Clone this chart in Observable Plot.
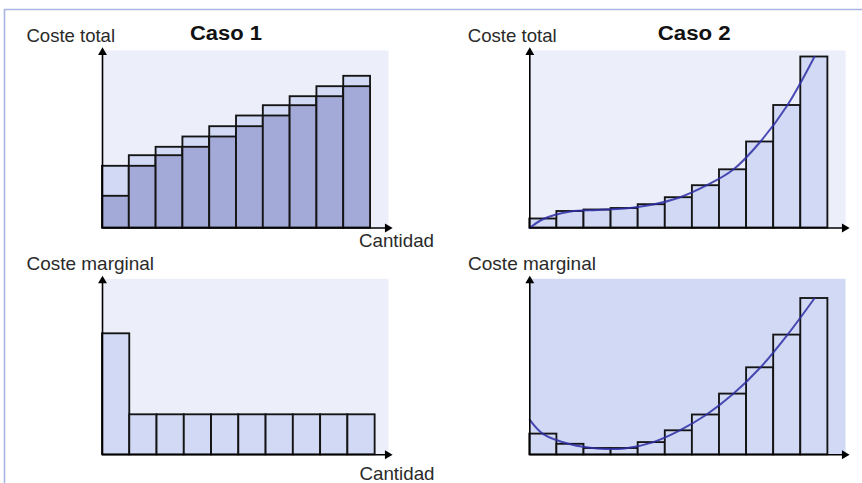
<!DOCTYPE html>
<html>
<head>
<meta charset="utf-8">
<script src="https://cdn.jsdelivr.net/npm/d3@7"></script>
<script src="https://cdn.jsdelivr.net/npm/@observablehq/plot@0.6"></script>
<style>
  html, body { margin: 0; padding: 0; background: #fff; }
  #root { position: relative; width: 862px; height: 483px; overflow: hidden; background: #fff;
          font-family: "Liberation Sans", Arial, Helvetica, sans-serif; }
  .panel { position: absolute; }
  #overlay { position: absolute; left: 0; top: 0; pointer-events: none; }
</style>
</head>
<body>
<div id="root"></div>
<script>
// ---------- DATA ----------
// Caso 1: 10 units of quantity
const quantities1 = [1, 2, 3, 4, 5, 6, 7, 8, 9, 10];
const costBefore1 = [3.17, 6.17, 7.23, 8.07, 9.1, 10.13, 11.2, 12.23, 13.13, 14.13];
const costAfter1  = [6.17, 7.23, 8.07, 9.1, 10.13, 11.2, 12.23, 13.13, 14.13, 15.17];
const marginal1   = [12.1, 4.0, 4.0, 4.0, 4.0, 4.0, 4.0, 4.0, 4.0, 4.0];

// Caso 2: 11 units of quantity
const quantities2 = [1, 2, 3, 4, 5, 6, 7, 8, 9, 10, 11];
const totalCost2  = [0.9, 1.65, 1.8, 1.95, 2.33, 3.03, 4.23, 5.82, 8.6, 12.25, 17.1];
const marginal2   = [2.07, 1.05, 0.63, 0.63, 1.22, 2.4, 3.98, 6.07, 8.7, 11.97, 15.63];

// Smooth curves of Caso 2
const curveQ          = [0, 0.5, 1.5, 2.5, 3.5, 4.5, 5.5, 6.5, 7.5, 8.5, 9.5, 10.5];
const totalCurve2     = [0, 0.9, 1.65, 1.8, 1.95, 2.33, 3.03, 4.23, 5.82, 8.6, 12.25, 17.1];
const marginalCurve2  = [3.5, 2.07, 1.05, 0.63, 0.63, 1.22, 2.4, 3.98, 6.07, 8.7, 11.97, 15.63];

// Texts
const caseTitles   = ["Caso 1", "Caso 2"];
const yLabels      = ["Coste total", "Coste marginal"];
const xLabel       = "Cantidad";

// ---------- STYLE ----------
const C = {
  bg: "#eceefa",
  light: "#d2d9f4",
  dark: "#a4aad8",
  stroke: "#141414",
  curve: "#2e2ea6",
  border: "#aab4e4",
  text: "#2a2a2a"
};

const root = document.getElementById("root");

function axes(xMax, yMax) {
  return [
    Plot.ruleX([0], {y1: 0, y2: yMax, stroke: "#000", strokeWidth: 1.6}),
    Plot.ruleY([0], {x1: 0, x2: xMax, stroke: "#000", strokeWidth: 1.6}),
    Plot.dot([{x: 0, y: yMax}], {x: "x", y: "y", symbol: "triangle", r: 3.3, fill: "#000", stroke: "none", dy: 2}),
    Plot.dot([{x: xMax, y: 0}], {x: "x", y: "y", symbol: "triangle", r: 3.3, fill: "#000", stroke: "none", rotate: 90, dx: -1})
  ];
}

function panel({left, top, width, height, margin, xMax, yMax, bg, marks}) {
  const chart = Plot.plot({
    width, height,
    marginLeft: margin[0], marginRight: margin[1], marginTop: margin[2], marginBottom: margin[3],
    x: {domain: [0, xMax], axis: null},
    y: {domain: [0, yMax], axis: null},
    style: {background: "transparent", overflow: "visible"},
    marks: [
      Plot.frame({fill: bg, stroke: "none"}),
      ...marks,
      ...axes(xMax, yMax)
    ]
  });
  const div = document.createElement("div");
  div.className = "panel";
  div.style.left = left + "px";
  div.style.top = top + "px";
  div.appendChild(chart);
  root.appendChild(div);
}

const rows1 = quantities1.map((q, i) => ({q, before: costBefore1[i], after: costAfter1[i], mc: marginal1[i]}));
const rows2 = quantities2.map((q, i) => ({q, total: totalCost2[i], mc: marginal2[i]}));
const curve2 = curveQ.map((q, i) => ({q, total: totalCurve2[i], mc: marginalCurve2[i]}));

const barOpts = (yField, fill) => ({
  x1: d => d.q - 1, x2: d => d.q, y1: 0, y2: yField,
  fill, stroke: C.stroke, strokeWidth: 1.85
});

// Panel 1: Caso 1 total cost
panel({
  left: 0, top: 0, width: 431, height: 240,
  margin: [102, 43, 50, 12.5],
  xMax: 10.67, yMax: 17.75, bg: C.bg,
  marks: [
    Plot.rect(rows1, barOpts("after", C.light)),
    Plot.rect(rows1, barOpts("before", C.dark))
  ]
});

// Panel 3: Caso 1 marginal cost
panel({
  left: 0, top: 240, width: 431, height: 243,
  margin: [102, 43, 38.3, 28.7],
  xMax: 10.49, yMax: 17.6, bg: C.bg,
  marks: [
    Plot.rect(rows1, barOpts("mc", C.light))
  ]
});

// Panel 2: Caso 2 total cost
panel({
  left: 431, top: 0, width: 431, height: 240,
  margin: [98.3, 17, 50, 12.5],
  xMax: 11.65, yMax: 17.75, bg: C.bg,
  marks: [
    Plot.rect(rows2, barOpts("total", C.light)),
    Plot.line(curve2, {x: "q", y: "total", curve: "catmull-rom", stroke: C.curve, strokeWidth: 2, strokeOpacity: 0.85})
  ]
});

// Panel 4: Caso 2 marginal cost
panel({
  left: 431, top: 240, width: 431, height: 243,
  margin: [98.3, 17, 38.3, 28.7],
  xMax: 11.65, yMax: 17.6, bg: C.light,
  marks: [
    Plot.rect(rows2, barOpts("mc", C.light)),
    Plot.line(curve2, {x: "q", y: "mc", curve: "catmull-rom", stroke: C.curve, strokeWidth: 2, strokeOpacity: 0.85})
  ]
});

// ---------- Overlay: border and texts ----------
const svg = d3.select(root).append("svg")
  .attr("id", "overlay").attr("width", 862).attr("height", 483);

svg.append("line").attr("x1", 4).attr("x2", 862).attr("y1", 9.5).attr("y2", 9.5)
  .attr("stroke", C.border).attr("stroke-width", 1.6);
svg.append("line").attr("x1", 4.5).attr("x2", 4.5).attr("y1", 9).attr("y2", 483)
  .attr("stroke", C.border).attr("stroke-width", 1.6);

const texts = [
  {t: yLabels[0], x: 26.5, y: 42, w: 88.5, bold: false},
  {t: caseTitles[0], x: 190, y: 39.5, w: 72, bold: true},
  {t: xLabel, x: 359, y: 247, w: 75, bold: false},
  {t: yLabels[1], x: 26.5, y: 269.5, w: 127.5, bold: false},
  {t: xLabel, x: 359.5, y: 479.5, w: 75, bold: false},
  {t: yLabels[0], x: 467.7, y: 42, w: 89, bold: false},
  {t: caseTitles[1], x: 657.7, y: 39.5, w: 73, bold: true},
  {t: yLabels[1], x: 468, y: 269.5, w: 128, bold: false}
];
svg.selectAll("text.lbl").data(texts).join("text")
  .attr("class", "lbl")
  .attr("x", d => d.x).attr("y", d => d.y)
  .attr("textLength", d => d.w).attr("lengthAdjust", "spacingAndGlyphs")
  .attr("font-family", '"Liberation Sans", Arial, Helvetica, sans-serif')
  .attr("font-size", d => d.bold ? 19.5 : 18.5)
  .attr("font-weight", d => d.bold ? "bold" : "normal")
  .attr("fill", d => d.bold ? "#111" : C.text)
  .text(d => d.t);
</script>
</body>
</html>
